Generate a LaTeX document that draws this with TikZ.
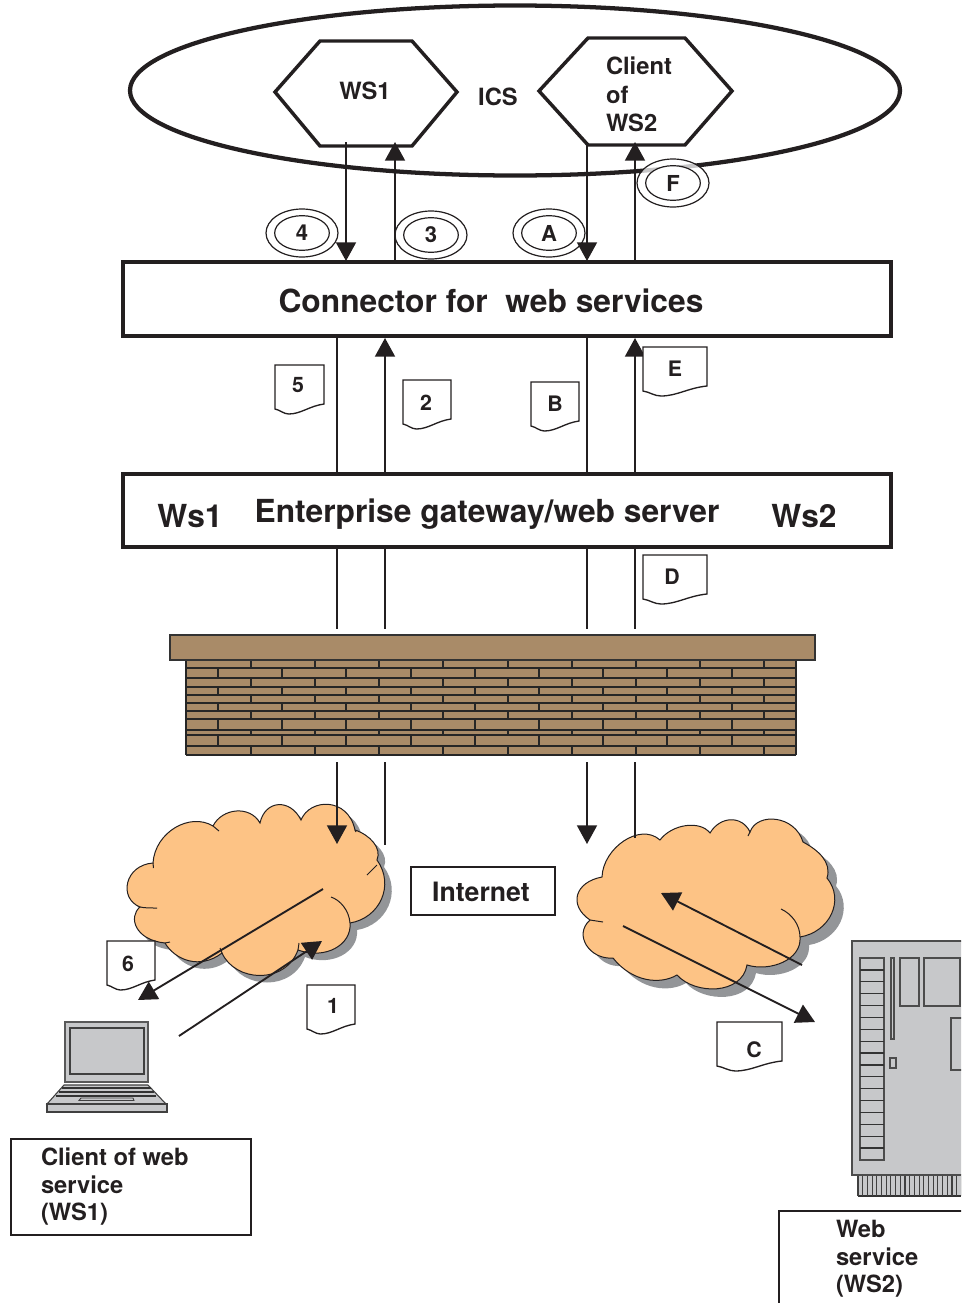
\documentclass[tikz,border=0pt]{standalone}
\usepackage{fontspec}
\setmainfont{TeX Gyre Heros}
\usetikzlibrary{arrows.meta,shapes.geometric}
\definecolor{brick}{HTML}{A98B68}
\definecolor{cloudc}{HTML}{FDC385}
\definecolor{shadowc}{HTML}{939598}
\definecolor{metal}{HTML}{C7C8CA}
\definecolor{inkc}{HTML}{231F20}
\tikzset{
 x=0.75pt,y=-0.75pt,
 every node/.style={font=\bfseries,text=inkc,inner sep=0pt,outer sep=0pt},
 wire/.style={draw=inkc,line width=1.4pt},
 arr/.style={wire,-{Triangle[length=14pt,width=15pt,color=inkc]}},
 thin line/.style={draw=inkc,line width=0.75pt},
 bigbox/.style={draw=inkc,line width=3pt,rectangle,minimum width=576pt,minimum height=55pt,fill=white},
 labelbox/.style={draw=inkc,line width=1.2pt,rectangle,fill=white},
 t17/.style={font=\bfseries\fontsize{17.8}{20}\selectfont},
 t23/.style={font=\bfseries\fontsize{23.8}{26}\selectfont},
 t18/.style={font=\bfseries\fontsize{20}{23}\selectfont},
 tdoc/.style={font=\bfseries\fontsize{16}{18}\selectfont},
 hexa/.style={draw=inkc,line width=2.6pt,fill=white,line join=miter},
 ringo/.style={draw=inkc,line width=0.9pt,ellipse,minimum width=54pt,minimum height=36pt},
 ringi/.style={draw=inkc,line width=0.9pt,ellipse,minimum width=41pt,minimum height=26pt,font=\bfseries\fontsize{16.5}{18}\selectfont},
 docpaper/.style={draw=inkc,line width=1pt,fill=white},
 part/.style={draw=black!70,line width=0.8pt},
 joint/.style={draw=black!85,line width=1.5pt},
}
\newcommand{\docshape}[7]{% x y w name label labelx labely
 \draw[docpaper] (#1,#2) -- ++(#3,0) -- ++(0,39)
   .. controls +(-#3*0.3,2) and +(#3*0.25,0) .. ++(-#3*0.72,10)
   .. controls +(-#3*0.1,0) and +(#3*0.1,1) .. ++(-#3*0.28,-5) -- cycle;
 \node[tdoc] (#4) at (#6,#7) {#5};
}
\newcommand{\leftcloudpath}{(153,863) .. controls (155,832) and (190,812) .. (213,826)
 .. controls (222,808) and (250,805) .. (260,823)
 .. controls (265,800) and (290,798) .. (301,820)
 .. controls (310,798) and (348,797) .. (355,830)
 .. controls (370,835) and (382,848) .. (377,860)
 .. controls (395,885) and (380,918) .. (350,923)
 .. controls (352,945) and (325,960) .. (298,950)
 .. controls (285,985) and (235,982) .. (222,953)
 .. controls (200,970) and (175,960) .. (165,943)
 .. controls (135,940) and (128,917) .. (140,907)
 .. controls (118,898) and (125,865) .. (153,863) -- cycle}
\newcommand{\rightcloudpath}{(602,877) .. controls (603,848) and (640,822) .. (660,840)
 .. controls (672,824) and (700,820) .. (710,833)
 .. controls (720,816) and (742,815) .. (750,832)
 .. controls (757,812) and (795,815) .. (803,842)
 .. controls (818,850) and (832,862) .. (827,878)
 .. controls (845,900) and (830,932) .. (800,937)
 .. controls (802,960) and (770,972) .. (747,965)
 .. controls (742,995) and (695,995) .. (677,975)
 .. controls (660,985) and (632,982) .. (613,958)
 .. controls (590,960) and (573,935) .. (590,920)
 .. controls (568,905) and (575,882) .. (602,877) -- cycle}
\begin{document}
\begin{tikzpicture}
\useasboundingbox (0,0) rectangle (961,1303);
\clip (0,0) rectangle (961,1303);
% ICS ellipse
\draw[draw=inkc,line width=3.2pt] (515,90.5) ellipse [x radius=385,y radius=85];
% hexagons
\draw[hexa] (275,92) -- (320,41) -- (412,41) -- (457,92) -- (412,146) -- (320,146) -- cycle;
\draw[hexa] (539,91) -- (588,38) -- (685,38) -- (732,91) -- (685,145) -- (588,145) -- cycle;
\node[t17] (ws1) at (365,91) {WS1};
\node[t17] (ics) at (498,97) {ICS};
\node[t17,anchor=west] (cl1) at (606,66) {Client};
\node[t17,anchor=west] (cl2) at (606,95) {of};
\node[t17,anchor=west] (cl3) at (606,123) {WS2};
% named end points
\foreach \n/\x in {p/346,q/395,r/587,s/635}{
 \coordinate (\n-top) at (\x,142);
 \coordinate (\n-bot) at (\x,261);
}
\foreach \n/\x in {a/337,b/385,c/587,d/635}{
 \coordinate (\n-one) at (\x,338);
 \coordinate (\n-two) at (\x,474);
 \coordinate (\n-three) at (\x,547);
 \coordinate (\n-four) at (\x,629);
 \coordinate (\n-five) at (\x,762);
}
\coordinate (a-six) at (337,844);
\coordinate (b-six) at (385,845);
\coordinate (c-six) at (587,844);
\coordinate (d-six) at (635,838);
\coordinate (lo1) at (323,889); \coordinate (lo2) at (138,1000);
\coordinate (li1) at (179,1036); \coordinate (li2) at (322,941);
\coordinate (ri1) at (802,965); \coordinate (ri2) at (661,893);
\coordinate (ro1) at (623,926); \coordinate (ro2) at (815,1022);
% rings
\node[ringo] (r4o) at (302,233) {}; \node[ringi] (r4) at (302,233) {\raisebox{0pt}{4}};
\node[ringo] (r3o) at (431,235) {}; \node[ringi] (r3) at (431,235) {\raisebox{-1pt}{3}};
\node[ringo] (rao) at (549,233) {}; \node[ringi] (ra) at (549,233) {A};
\node[ringo,fill=white,fill opacity=0.75] (rfo) at (673,183) {}; \node[ringi,fill=white] (rf) at (673,183) {\raisebox{-2pt}{F}};
% upper connectors
\draw[arr] (p-top) -- (p-bot);
\draw[arr] (q-bot) -- (q-top);
\draw[arr] (r-top) -- (r-bot);
\draw[arr] (s-bot) -- (s-top);
% mid connectors
\draw[wire] (a-one) -- (a-two);
\draw[arr] (b-two) -- (b-one);
\draw[wire] (c-one) -- (c-two);
\draw[arr] (d-two) -- (d-one);
\foreach \n in {a,b,c,d}{\draw[wire] (\n-three) -- (\n-four);}
% boxes
\node[bigbox] (conn) at (507,299) {};
\node[bigbox] (gate) at (507,510.5) {};
\node[t23] (conntxt) at (491,301) {Connector for\ \ web services};
\node[t23] (gatetxt) at (487,514) {Enterprise gateway/web server};
\node[t23] (gw1) at (190,516) {Ws1};
\node[t23] (gw2) at (804,516) {Ws2};
% document icons
\docshape{275}{365}{49}{d5}{5}{298}{385}
\docshape{403}{380}{48}{d2}{2}{426}{403}
\docshape{531}{382}{48}{db}{B}{555}{404}
\docshape{643}{347}{64}{de}{E}{675}{369}
\docshape{643}{555}{64}{dd}{D}{672}{577}
% firewall
\fill[brick] (186,660) rectangle (796,754);
\foreach \y in {660,668.3,678.3,686.7,695,703.3,710.7,719,730,735,746,754.5}{\draw[joint] (186,\y) -- (796,\y);}
\draw[joint] (186,660) -- (186,754.5); \draw[joint] (796,660) -- (796,754.5);
\foreach \ya/\yb/\off in {660/668.3/250.7,668.3/678.3/218,678.3/686.7/250.7,686.7/695/218,695/703.3/250.7,703.3/710.7/218,710.7/719/250.7,719/730/218,730/735/250.7,735/746/218,746/754.5/250.7}{
 \foreach \k in {0,...,8}{\draw[joint] ({\off+64.2*\k},\ya) -- ({\off+64.2*\k},\yb);}
}
\draw[fill=brick,draw=black!80,line width=1.3pt] (170,635) rectangle (815,660);
% clouds
\fill[shadowc,shift={(7,7)}] \leftcloudpath;
\draw[thin line,fill=cloudc] \leftcloudpath;
\draw[thin line] (153,863) -- (153.5,868);
\draw[thin line] (213,826) -- (219,831);
\draw[thin line] (355,830) -- (356,832);
\draw[thin line] (377,865) -- (367,875);
\draw[thin line] (331,897) .. controls (340,900) and (349,910) .. (350,923);
\draw[thin line] (298,950) -- (299,943);
\draw[thin line] (222,953) -- (220,948);
\draw[thin line] (165,943) -- (170,942);
\draw[thin line] (140,907) .. controls (145,908) and (150,908) .. (157,908);
\fill[shadowc,shift={(9,8)}] \rightcloudpath;
\draw[thin line,fill=cloudc] \rightcloudpath;
\draw[thin line] (590,920) -- (603,922);
\draw[thin line] (781,909) .. controls (792,914) and (800,925) .. (800,937);
\draw[thin line] (750,832) -- (748,836);
% lower connectors
\draw[arr] (a-five) -- (a-six);
\draw[wire] (b-five) -- (b-six);
\draw[arr] (c-five) -- (c-six);
\draw[wire] (d-five) -- (d-six);
\draw[arr] (lo1) -- (lo2);
\draw[arr] (li1) -- (li2);
\draw[arr] (ri1) -- (ri2);
\draw[arr] (ro1) -- (ro2);
% lower labels
\node[labelbox,minimum width=108pt,minimum height=36pt] (inet) at (483,891) {};
\node[t18] (inettxt) at (481,892) {Internet};
\docshape{107}{941}{48}{d6}{6}{128}{964}
\docshape{307}{985}{48}{d1}{1}{333}{1006}
\docshape{717}{1022}{65}{dc}{C}{754}{1050}
% laptop
\draw[draw=black!65,line width=0.8pt,fill=metal] (65,1022) rectangle (148,1082);
\draw[draw=black!75,line width=1pt,fill=metal] (70,1028) rectangle (144,1074);
\draw[draw=black!75,line width=0.8pt,fill=metal] (64,1085) -- (148,1085) -- (166,1104) -- (47,1104) -- cycle;
\draw[draw=black!75,line width=0.8pt,fill=metal] (47,1104) rectangle (167,1112);
\draw[draw=black!80,line width=1.2pt] (62,1088) -- (151,1088);
\draw[draw=black!80,line width=1.2pt] (59,1092) -- (154,1092);
\draw[draw=black!80,line width=1.2pt] (56,1096) -- (156,1096);
\draw[draw=black!75,line width=0.7pt] (81,1098) -- (133,1098) -- (134,1100.5) -- (79,1100.5) -- cycle;
\node[labelbox,minimum width=180pt,minimum height=72pt] (clbox) at (131,1187) {};
\node[t17,anchor=west] (c1) at (41,1157) {Client of web};
\node[t17,anchor=west] (c2) at (41,1185) {service};
\node[t17,anchor=west] (c3) at (41,1214) {(WS1)};
% server
\draw[draw=black!70,line width=0.8pt,fill=metal] (852,941) rectangle (975,1175);
\draw[part] (860,958) rectangle (884,1160);
\foreach \k in {1,...,16}{\draw[draw=black!80,line width=1pt] (860,{958+11.88*\k}) -- (884,{958+11.88*\k});}
\draw[part] (891,958) rectangle (894,1039);
\draw[part] (890,1058) rectangle (896,1068);
\draw[part] (900,958) rectangle (919,1006);
\draw[part] (924,958) rectangle (960,1006);
\draw[part] (951,1018) rectangle (975,1070);
\fill[metal] (858,1176) rectangle (961,1196);
\draw[draw=black!80,line width=0.8pt] (858,1196) -- (961,1196);
\foreach \k in {0,...,22}{\draw[draw=black!75,line width=0.8pt] ({858+4.7*\k},1176) -- ({858+4.7*\k},1196);}
\node[labelbox,minimum width=180pt,minimum height=90pt] (wsbox) at (899,1271) {};
\node[t17,anchor=west] (w1) at (836,1229) {Web};
\node[t17,anchor=west] (w2) at (836,1257) {service};
\node[t17,anchor=west] (w3) at (836,1286) {(WS2)};
\end{tikzpicture}
\end{document}
